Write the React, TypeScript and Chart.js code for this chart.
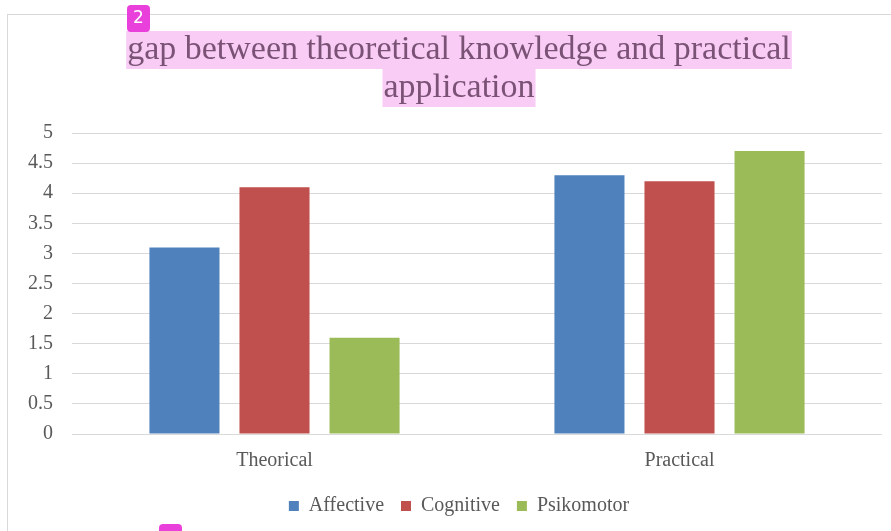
import React, { useEffect, useRef } from "react";
import { Chart, registerables } from "chart.js";

Chart.register(...registerables);

const categories = ["Theorical", "Practical"];
const affective = [3.1, 4.3];
const cognitive = [4.1, 4.2];
const psikomotor = [1.6, 4.7];
const titleLines = ["gap between theoretical knowledge and practical", "application"];
const badgeLabel = "2";

const FONT = "'Liberation Serif', 'DejaVu Serif', serif";

const decorPlugin = {
  id: "decor",
  beforeDraw(chart: any) {
    const ctx = chart.ctx;
    ctx.save();
    ctx.fillStyle = "#ffffff";
    ctx.fillRect(0, 0, chart.width, chart.height);
    ctx.strokeStyle = "#D9D9D9";
    ctx.lineWidth = 1;
    ctx.strokeRect(7.5, 14.5, 1000, 1000);
    const t = chart.titleBlock;
    if (t) {
      const opts = chart.options.plugins.title;
      const font = opts.font;
      ctx.font = `${font.size}px ${font.family}`;
      const cx = (t.left + t.right) / 2;
      const lh = font.size * font.lineHeight;
      const top0 = t.top + opts.padding.top;
      titleLines.forEach((line, i) => {
        const w = ctx.measureText(line).width;
        ctx.fillStyle = "#F9CCF6";
        ctx.fillRect(cx - w / 2 - 1, top0 + i * lh, w + 2, lh);
      });
    }
    ctx.restore();
  },
  afterDraw(chart: any) {
    const ctx = chart.ctx;
    ctx.save();
    ctx.fillStyle = "#E940DB";
    ctx.beginPath();
    (ctx as any).roundRect(127, 5, 23, 27, 4);
    ctx.fill();
    ctx.fillStyle = "#ffffff";
    ctx.font = "17px 'DejaVu Sans', sans-serif";
    ctx.textAlign = "center";
    ctx.textBaseline = "middle";
    ctx.fillText(badgeLabel, 138.5, 19);
    ctx.fillStyle = "#E940DB";
    ctx.beginPath();
    (ctx as any).roundRect(159, 524, 23, 27, 4);
    ctx.fill();
    ctx.restore();
  },
};

export default function App() {
  const ref = useRef<HTMLCanvasElement | null>(null);
  useEffect(() => {
    if (!ref.current) return;
    const chart = new Chart(ref.current, {
      type: "bar",
      data: {
        labels: categories,
        datasets: [
          { label: "Affective", data: affective, backgroundColor: "#4F81BD" },
          { label: "Cognitive", data: cognitive, backgroundColor: "#C0504D" },
          { label: "Psikomotor", data: psikomotor, backgroundColor: "#9BBB59" },
        ],
      },
      options: {
        animation: false,
        responsive: true,
        maintainAspectRatio: false,
        layout: { padding: { left: 0, right: 0, top: 0, bottom: 5 } },
        datasets: { bar: { categoryPercentage: 0.667, barPercentage: 0.778 } },
        scales: {
          x: {
            grid: { display: false, drawTicks: false },
            border: { display: false },
            ticks: { color: "#595959", font: { family: FONT, size: 20 }, padding: 15 },
            afterFit: (s: any) => {
              s.height = 45;
            },
          },
          y: {
            min: 0,
            max: 5,
            afterFit: (s: any) => {
              s.width = 72;
            },
            ticks: {
              stepSize: 0.5,
              color: "#595959",
              font: { family: FONT, size: 20 },
              padding: 19,
              callback: (v: any) => String(v),
            },
            grid: { color: "#D9D9D9", drawTicks: false },
            border: { display: false },
          },
          y2: {
            type: "linear",
            position: "right",
            display: true,
            grid: { display: false, drawTicks: false },
            border: { display: false },
            ticks: { display: false },
            afterFit: (s: any) => {
              s.width = 36;
            },
          },
        },
        plugins: {
          title: {
            display: true,
            text: titleLines,
            color: "#7A5275",
            font: { family: FONT, size: 34, weight: "normal", lineHeight: 38 / 34 },
            padding: { top: 31, bottom: 26 },
          },
          legend: {
            position: "bottom",
            labels: {
              color: "#595959",
              font: { family: FONT, size: 20 },
              boxWidth: 10,
              boxHeight: 10,
              padding: 17,
            },
          },
          tooltip: { enabled: false },
        },
      },
      plugins: [decorPlugin],
    });
    return () => chart.destroy();
  }, []);
  return (
    <div style={{ position: "fixed", left: 0, top: 0, width: 891, height: 531, overflow: "hidden", background: "#fff" }}>
      <div style={{ position: "relative", width: 918, height: 531 }}>
        <canvas ref={ref} />
      </div>
    </div>
  );
}
